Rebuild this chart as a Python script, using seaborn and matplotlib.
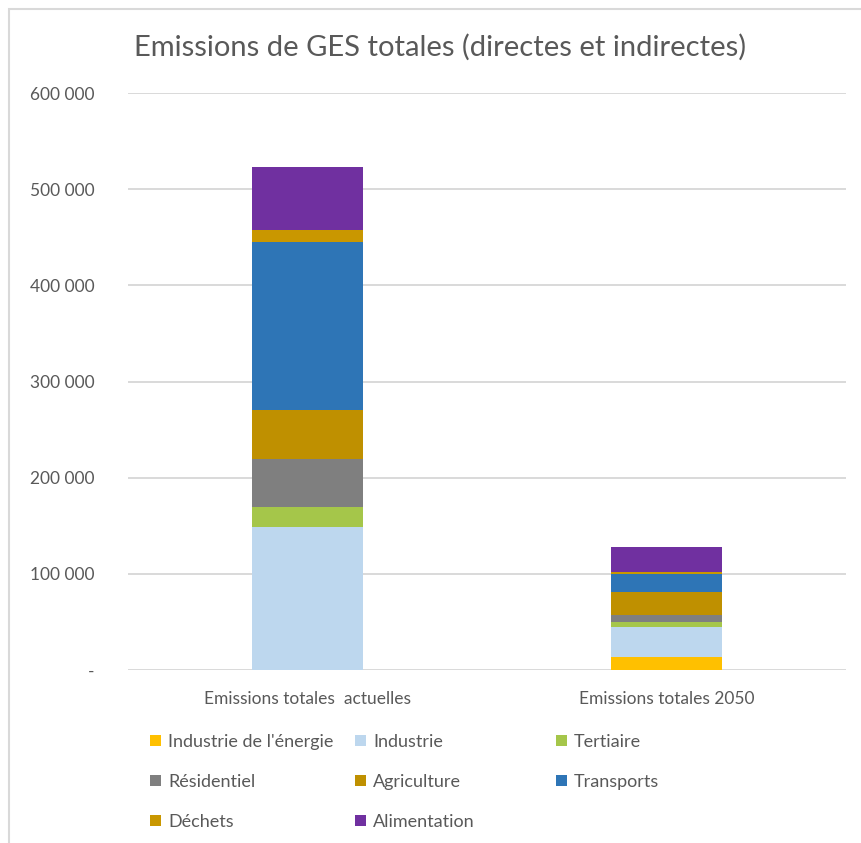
import matplotlib
matplotlib.use("Agg")
import matplotlib.pyplot as plt
from matplotlib.patches import Patch, Rectangle
from matplotlib.ticker import FuncFormatter
import seaborn as sns
import pandas as pd

# Scenarios (x categories)
scenarios = ["Emissions totales  actuelles", "Emissions totales 2050"]

# Sectors, bottom to top of each stack
sectors = ["Industrie de l'énergie", "Industrie", "Tertiaire", "Résidentiel",
           "Agriculture", "Transports", "Déchets", "Alimentation"]

# Emissions per sector (tCO2e), current vs 2050
energie = [0, 13000]
industrie = [149000, 32000]
tertiaire = [21000, 5000]
residentiel = [49000, 7500]
agriculture = [51000, 24000]
transports = [175000, 18000]
dechets = [13000, 2500]
alimentation = [65000, 26000]

colors = ["#FFC000", "#BDD7EE", "#A5C64A", "#7F7F7F",
          "#BF9000", "#2E75B6", "#C99700", "#7030A0"]

yticks = [0, 100000, 200000, 300000, 400000, 500000, 600000]

values = pd.DataFrame(
    [energie, industrie, tertiaire, residentiel,
     agriculture, transports, dechets, alimentation],
    index=sectors, columns=scenarios,
)
cumulative = values.cumsum(axis=0)

sns.set_theme(style="white")
plt.rcParams["font.family"] = ["Lato", "DejaVu Sans"]
text_color = "#595959"
grid_color = "#D9D9D9"

fig = plt.figure(figsize=(8.61, 8.43), dpi=100)
ax = fig.add_axes([128 / 861, 173 / 843, (846 - 128) / 861, (670 - 93) / 843])

# Draw stacks top-down so each lower segment covers the one beneath it
for sector, color in reversed(list(zip(sectors, colors))):
    df = pd.DataFrame({"scenario": scenarios, "top": cumulative.loc[sector].values})
    sns.barplot(data=df, x="scenario", y="top", color=color, saturation=1,
                width=0.31, ax=ax, order=scenarios, linewidth=0, zorder=3)

ax.set_xlim(-0.5, 1.5)
ax.set_ylim(0, 600000)
ax.set_yticks(yticks)
ax.yaxis.set_major_formatter(FuncFormatter(
    lambda v, p: "-" if v == 0 else f"{int(v):,}".replace(",", " ")))
ax.grid(axis="y", color=grid_color, linewidth=1.4, zorder=0)
ax.grid(axis="x", visible=False)
for s in ax.spines.values():
    s.set_visible(False)
ax.tick_params(axis="y", length=0, pad=24, labelsize=12.5, labelcolor=text_color)
ax.tick_params(axis="x", length=0, pad=15, labelsize=12.5, labelcolor=text_color)
ax.set_xlabel("")
ax.set_ylabel("")

fig.text(440 / 861, 1 - 47 / 843, "Emissions de GES totales (directes et indirectes)",
         ha="center", va="center", fontsize=21, color=text_color)

# Legend laid out as three columns, filled row by row
handles = [Patch(facecolor=c, edgecolor="none") for c in colors]
col_groups = [[0, 3, 6], [1, 4, 7], [2, 5]]
col_x = [150, 355, 556]
for idxs, x in zip(col_groups, col_x):
    fig.legend([handles[i] for i in idxs], [sectors[i] for i in idxs],
               loc="upper left", bbox_to_anchor=(x / 861, 1 - 734 / 843),
               frameon=False, fontsize=13, labelcolor=text_color,
               handlelength=0.6, handleheight=0.6, handletextpad=0.4,
               labelspacing=1.33, borderpad=0, borderaxespad=0)

# Chart frame (top and left edges visible)
fig.add_artist(Rectangle((9 / 861, -0.05), 1.1, 1.05 - 9 / 843,
                         transform=fig.transFigure, fill=False,
                         edgecolor=grid_color, linewidth=1.5))

fig.savefig("out.png", dpi=100, facecolor="white")
